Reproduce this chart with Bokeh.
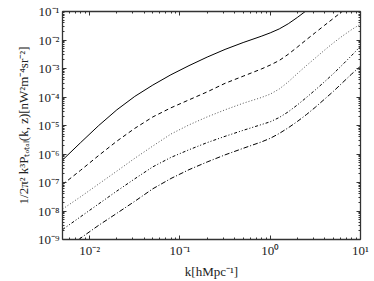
from bokeh.plotting import figure
from bokeh.models import LogAxis, FixedTicker, CustomJSTickFormatter, Range1d
from bokeh.embed import file_html
from bokeh.resources import INLINE

# k grid [h Mpc^-1]
k = [0.00501, 0.00794, 0.0126, 0.0200, 0.0316, 0.0501, 0.0794, 0.126, 0.200,
     0.316, 0.501, 0.794, 1.0, 1.259, 1.585, 1.995, 2.512, 3.162, 3.981,
     5.012, 6.310, 7.943, 10.0]

# series values (k^3 P / 2pi^2)
solid = [6.17e-7, 2.51e-6, 1.0e-5, 3.55e-5, 1.05e-4, 2.63e-4, 6.03e-4, 1.26e-3,
         2.51e-3, 4.68e-3, 8.13e-3, 1.35e-2, 1.78e-2, 2.45e-2, 3.72e-2, 6.17e-2,
         0.107, 0.191]
dashed = [8.51e-8, 2.69e-7, 8.91e-7, 2.82e-6, 7.94e-6, 2.0e-5, 4.17e-5, 7.94e-5,
          1.51e-4, 3.02e-4, 5.37e-4, 9.55e-4, 1.32e-3, 1.91e-3, 3.16e-3, 5.62e-3,
          1.02e-2, 1.82e-2, 3.24e-2, 5.75e-2, 0.102, 0.182]
dotted = [1.17e-8, 3.16e-8, 8.91e-8, 2.51e-7, 7.08e-7, 1.91e-6, 5.01e-6, 1.05e-5,
          2.0e-5, 3.55e-5, 6.03e-5, 9.55e-5, 1.26e-4, 1.91e-4, 3.39e-4, 6.61e-4,
          1.26e-3, 2.34e-3, 4.37e-3, 7.94e-3, 1.38e-2, 2.29e-2, 3.63e-2]
dashdot = [2.24e-9, 6.31e-9, 1.78e-8, 5.01e-8, 1.35e-7, 3.55e-7, 7.59e-7, 1.41e-6,
           2.51e-6, 4.17e-6, 6.76e-6, 1.07e-5, 1.35e-5, 1.91e-5, 3.02e-5, 5.25e-5,
           9.55e-5, 1.78e-4, 3.39e-4, 6.61e-4, 1.35e-3, 2.82e-3, 6.03e-3]
dashdot2 = [3.55e-10, 1.12e-9, 3.16e-9, 8.32e-9, 2.19e-8, 6.03e-8, 1.38e-7, 2.82e-7,
            5.25e-7, 9.33e-7, 1.58e-6, 2.63e-6, 3.55e-6, 5.25e-6, 8.32e-6, 1.38e-5,
            2.40e-5, 4.37e-5, 8.32e-5, 1.58e-4, 3.16e-4, 6.31e-4, 1.20e-3]

x_major = [1e-2, 1e-1, 1e0, 1e1]
y_major = [1e-9, 1e-8, 1e-7, 1e-6, 1e-5, 1e-4, 1e-3, 1e-2, 1e-1]
x_minor = [m * 10.0 ** e for e in range(-3, 2) for m in range(2, 10)]
y_minor = [m * 10.0 ** e for e in range(-10, 0) for m in range(2, 10)]

x_title = "k[hMpc\u207b\u00b9]"
y_title = "1/2\u03c0\u00b2 k\u00b3P\u209c\u2092\u209c\u2090\u2097(k, z)[nW\u00b2m\u207b\u2074sr\u207b\u00b2]"

FONT = "Liberation Serif"

p = figure(width=374, height=281, x_axis_type="log", y_axis_type="log",
           x_range=Range1d(5e-3, 10), y_range=Range1d(1e-9, 1e-1),
           output_backend="svg", toolbar_location=None,
           min_border_left=62, min_border_right=14, min_border_top=11, min_border_bottom=38)
p.grid.visible = False
p.outline_line_color = None
p.background_fill_color = "white"

bottom = p.xaxis[0]
left = p.yaxis[0]

fmt = CustomJSTickFormatter(code="""
const e = Math.round(Math.log10(tick));
const sup = {'-':'\u207b','0':'\u2070','1':'\u00b9','2':'\u00b2','3':'\u00b3','4':'\u2074','5':'\u2075','6':'\u2076','7':'\u2077','8':'\u2078','9':'\u2079'};
return '10' + String(e).split('').map(c => sup[c]).join('');
""")
blank = CustomJSTickFormatter(code="return '';")

def style(ax, ticks, minor, show_labels):
    ax.ticker = FixedTicker(ticks=ticks, minor_ticks=minor)
    ax.major_tick_in = 4
    ax.major_tick_out = 0
    ax.minor_tick_in = 2
    ax.minor_tick_out = 0
    ax.axis_line_color = "#333333"
    ax.axis_line_width = 1.3
    ax.major_tick_line_color = "#333333"
    ax.minor_tick_line_color = "#333333"
    ax.major_label_text_font = FONT
    ax.major_label_text_color = "#222222"
    if show_labels:
        ax.formatter = fmt
        ax.major_label_text_font_size = "13px"
        ax.major_label_standoff = 3
    else:
        ax.formatter = blank
        ax.major_label_text_font_size = "1px"
        ax.major_label_standoff = 0

style(bottom, x_major, x_minor, True)
style(left, y_major, y_minor, True)

top = LogAxis()
right = LogAxis()
style(top, x_major, x_minor, False)
style(right, y_major, y_minor, False)
p.add_layout(top, "above")
p.add_layout(right, "right")

bottom.axis_label = x_title
left.axis_label = y_title
for ax in (bottom, left):
    ax.axis_label_text_font = FONT
    ax.axis_label_text_font_style = "normal"
    ax.axis_label_text_font_size = "13px"
    ax.axis_label_text_color = "#222222"
bottom.axis_label_standoff = 3
left.axis_label_standoff = 4

p.line(k[:len(solid)], solid, line_color="black", line_width=1)
p.line(k[:len(dashed)], dashed, line_color="black", line_width=1, line_dash="4 3")
p.line(k, dotted, line_color="#555555", line_width=1, line_dash="1 2")
p.line(k, dashdot, line_color="black", line_width=1, line_dash="3 2 1 2 1 2")
p.line(k, dashdot2, line_color="black", line_width=1, line_dash="5 2 1 2")

open("out.html", "w").write(file_html(p, INLINE))
